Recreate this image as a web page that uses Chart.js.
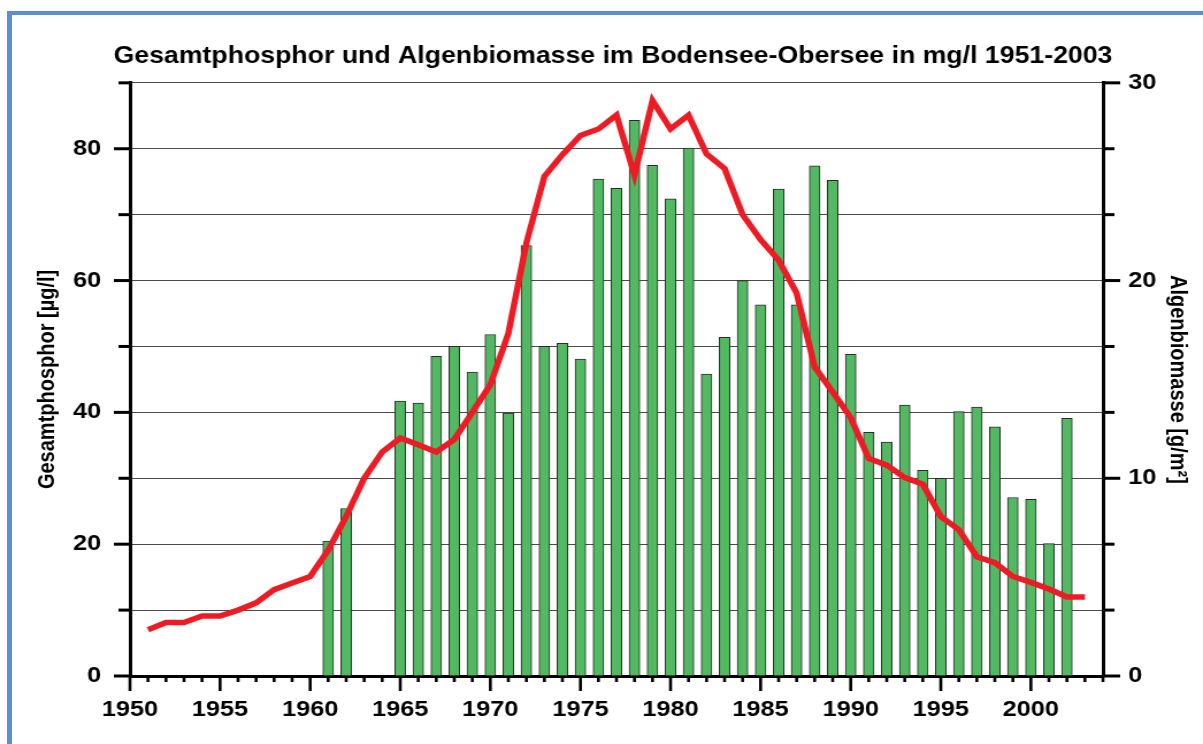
<!DOCTYPE html>
<html>
<head>
<meta charset="utf-8">
<script src="https://cdn.jsdelivr.net/npm/chart.js@4.4.1/dist/chart.umd.min.js"></script>
<style>
  html, body { margin: 0; padding: 0; background: #fff; }
  body { width: 1203px; height: 744px; overflow: hidden; position: relative; }
  #frame { position: absolute; left: 7px; top: 11px; width: 1300px; height: 900px;
           border-left: 5px solid #5b8fd0; border-top: 4px solid #5b8fd0; }
  #wrap { position: absolute; left: 0; top: 0; width: 1046px; height: 744px;
          transform: scaleX(1.1501); transform-origin: 0 0; }
</style>
</head>
<body>
<div id="frame"></div>
<div id="wrap"><canvas id="chart" width="1046" height="744"></canvas></div>
<script>
const titleText = 'Gesamtphosphor und Algenbiomasse im Bodensee-Obersee in mg/l 1951-2003';

// Gesamtphosphor (µg/l), jährlich 1951-2003
const lineYears = [1951,1952,1953,1954,1955,1956,1957,1958,1959,1960,
  1961,1962,1963,1964,1965,1966,1967,1968,1969,1970,
  1971,1972,1973,1974,1975,1976,1977,1978,1979,1980,
  1981,1982,1983,1984,1985,1986,1987,1988,1989,1990,
  1991,1992,1993,1994,1995,1996,1997,1998,1999,2000,
  2001,2002,2003];
const phosphor = [7.0,8.1,8.1,9.1,9.1,10.0,11.1,13.1,14.1,15.1,
  19.1,24.2,30.0,34.0,36.1,35.1,34.0,35.9,40.0,44.2,
  52.0,65.7,75.8,79.1,82.0,83.0,85.1,76.0,87.3,83.0,
  85.1,79.2,77.0,70.0,66.2,63.1,58.1,46.9,43.1,39.2,
  33.0,32.0,30.1,29.1,24.2,22.2,18.1,17.2,15.1,14.2,
  13.2,12.0,12.0];

// Algenbiomasse (g/m²)
const barYears = [1961,1962,1965,1966,1967,1968,1969,1970,
  1971,1972,1973,1974,1975,1976,1977,1978,1979,1980,
  1981,1982,1983,1984,1985,1986,1987,1988,1989,1990,
  1991,1992,1993,1994,1995,1996,1997,1998,1999,2000,
  2001,2002];
const biomasse = [6.83,8.47,13.9,13.8,16.17,16.67,15.37,17.27,
  13.3,21.77,16.67,16.83,16.03,25.13,24.67,28.1,25.83,24.13,
  26.7,15.27,17.13,20.0,18.77,24.63,18.77,25.8,25.07,16.27,
  12.33,11.83,13.7,10.4,10.0,13.37,13.6,12.6,9.03,8.93,
  6.7,13.03];

const xLabels = [1950,1955,1960,1965,1970,1975,1980,1985,1990,1995,2000];
const leftLabels = [0,20,40,60,80];
const rightLabels = [0,10,20,30];

Chart.defaults.font.family = '"Liberation Sans", Arial, sans-serif';
Chart.defaults.color = '#000';

// eigene Teilstriche an den Achsen
const tickMarks = {
  id: 'tickMarks',
  afterDraw(chart) {
    const {ctx, chartArea, scales} = chart;
    ctx.save();
    ctx.strokeStyle = '#000';
    ctx.lineCap = 'butt';
    const seg = (x1, y1, x2, y2) => { ctx.beginPath(); ctx.moveTo(x1, y1); ctx.lineTo(x2, y2); ctx.stroke(); };
    ctx.lineWidth = 2.6;
    for (let yr = 1950; yr <= 2004; yr++) {
      const px = scales.x.getPixelForValue(yr);
      seg(px, chartArea.bottom, px, chartArea.bottom + (yr % 5 === 0 ? 15 : 6));
    }
    ctx.lineWidth = 3;
    scales.y.ticks.forEach(t => {
      const py = scales.y.getPixelForValue(t.value);
      seg(chartArea.left - (leftLabels.includes(t.value) ? 14 : 10), py, chartArea.left, py);
    });
    scales.y2.ticks.forEach(t => {
      const py = scales.y2.getPixelForValue(t.value);
      const labelled = rightLabels.some(v => Math.abs(v - t.value) < 1e-6);
      seg(chartArea.right, py, chartArea.right + (labelled ? 15 : 10), py);
    });
    ctx.restore();
  }
};

new Chart(document.getElementById('chart'), {
  data: {
    datasets: [{
      type: 'line',
      label: 'Gesamtphosphor',
      data: lineYears.map((y, i) => ({x: y, y: phosphor[i]})),
      borderColor: '#ed1c24',
      borderWidth: 5.5,
      pointRadius: 0,
      tension: 0,
      yAxisID: 'y',
      order: 0
    }, {
      type: 'bar',
      label: 'Algenbiomasse',
      data: barYears.map((y, i) => ({x: y, y: biomasse[i]})),
      backgroundColor: '#52b862',
      borderColor: '#2b2b2b',
      borderWidth: 1,
      barThickness: 9.3,
      yAxisID: 'y2',
      order: 1
    }]
  },
  options: {
    responsive: false,
    animation: false,
    layout: { padding: { left: 20, right: 0, top: 0, bottom: 0 } },
    plugins: {
      legend: { display: false },
      tooltip: { enabled: false },
      title: {
        display: true,
        text: titleText,
        font: { size: 23.2, weight: 'bold' },
        color: '#000',
        padding: { top: 43, bottom: 12 }
      }
    },
    scales: {
      x: {
        type: 'linear',
        min: 1950,
        max: 2004,
        offset: false,
        grid: { display: false, drawTicks: false, offset: false },
        border: { display: true, color: '#000', width: 3 },
        afterBuildTicks: s => { s.ticks = xLabels.map(v => ({value: v})); },
        afterFit: s => { s.height = 68; },
        ticks: {
          font: { size: 22, weight: 'bold' },
          padding: 21,
          maxRotation: 0,
          autoSkip: false,
          callback: v => String(v)
        }
      },
      y: {
        position: 'left',
        min: 0,
        max: 90,
        grid: { color: '#4a4a4a', lineWidth: 1, drawTicks: false },
        border: { display: true, color: '#000', width: 3 },
        afterBuildTicks: s => { s.ticks = [0,10,20,30,40,50,60,70,80,90].map(v => ({value: v})); },
        afterFit: s => { s.width = 93; },
        ticks: {
          font: { size: 22, weight: 'bold' },
          padding: 25,
          callback: v => leftLabels.includes(v) ? String(v) : ''
        },
        title: {
          display: true,
          text: 'Gesamtphosphor [µg/l]',
          font: { size: 20, weight: 'bold' },
          padding: { top: 9, bottom: 0 }
        }
      },
      y2: {
        position: 'right',
        min: 0,
        max: 30,
        grid: { drawOnChartArea: false, drawTicks: false },
        border: { display: true, color: '#000', width: 3 },
        afterBuildTicks: s => { s.ticks = [0,1,2,3,4,5,6,7,8,9].map(i => ({value: i * 10 / 3})); },
        afterFit: s => { s.width = 87; },
        ticks: {
          font: { size: 22, weight: 'bold' },
          padding: 22,
          callback: v => {
            const hit = rightLabels.find(r => Math.abs(r - v) < 1e-6);
            return hit === undefined ? '' : String(hit);
          }
        },
        title: {
          display: true,
          text: 'Algenbiomasse [g/m²]',
          font: { size: 20, weight: 'bold' },
          padding: { top: 10, bottom: 0 }
        }
      }
    }
  },
  plugins: [tickMarks]
});
</script>
</body>
</html>
